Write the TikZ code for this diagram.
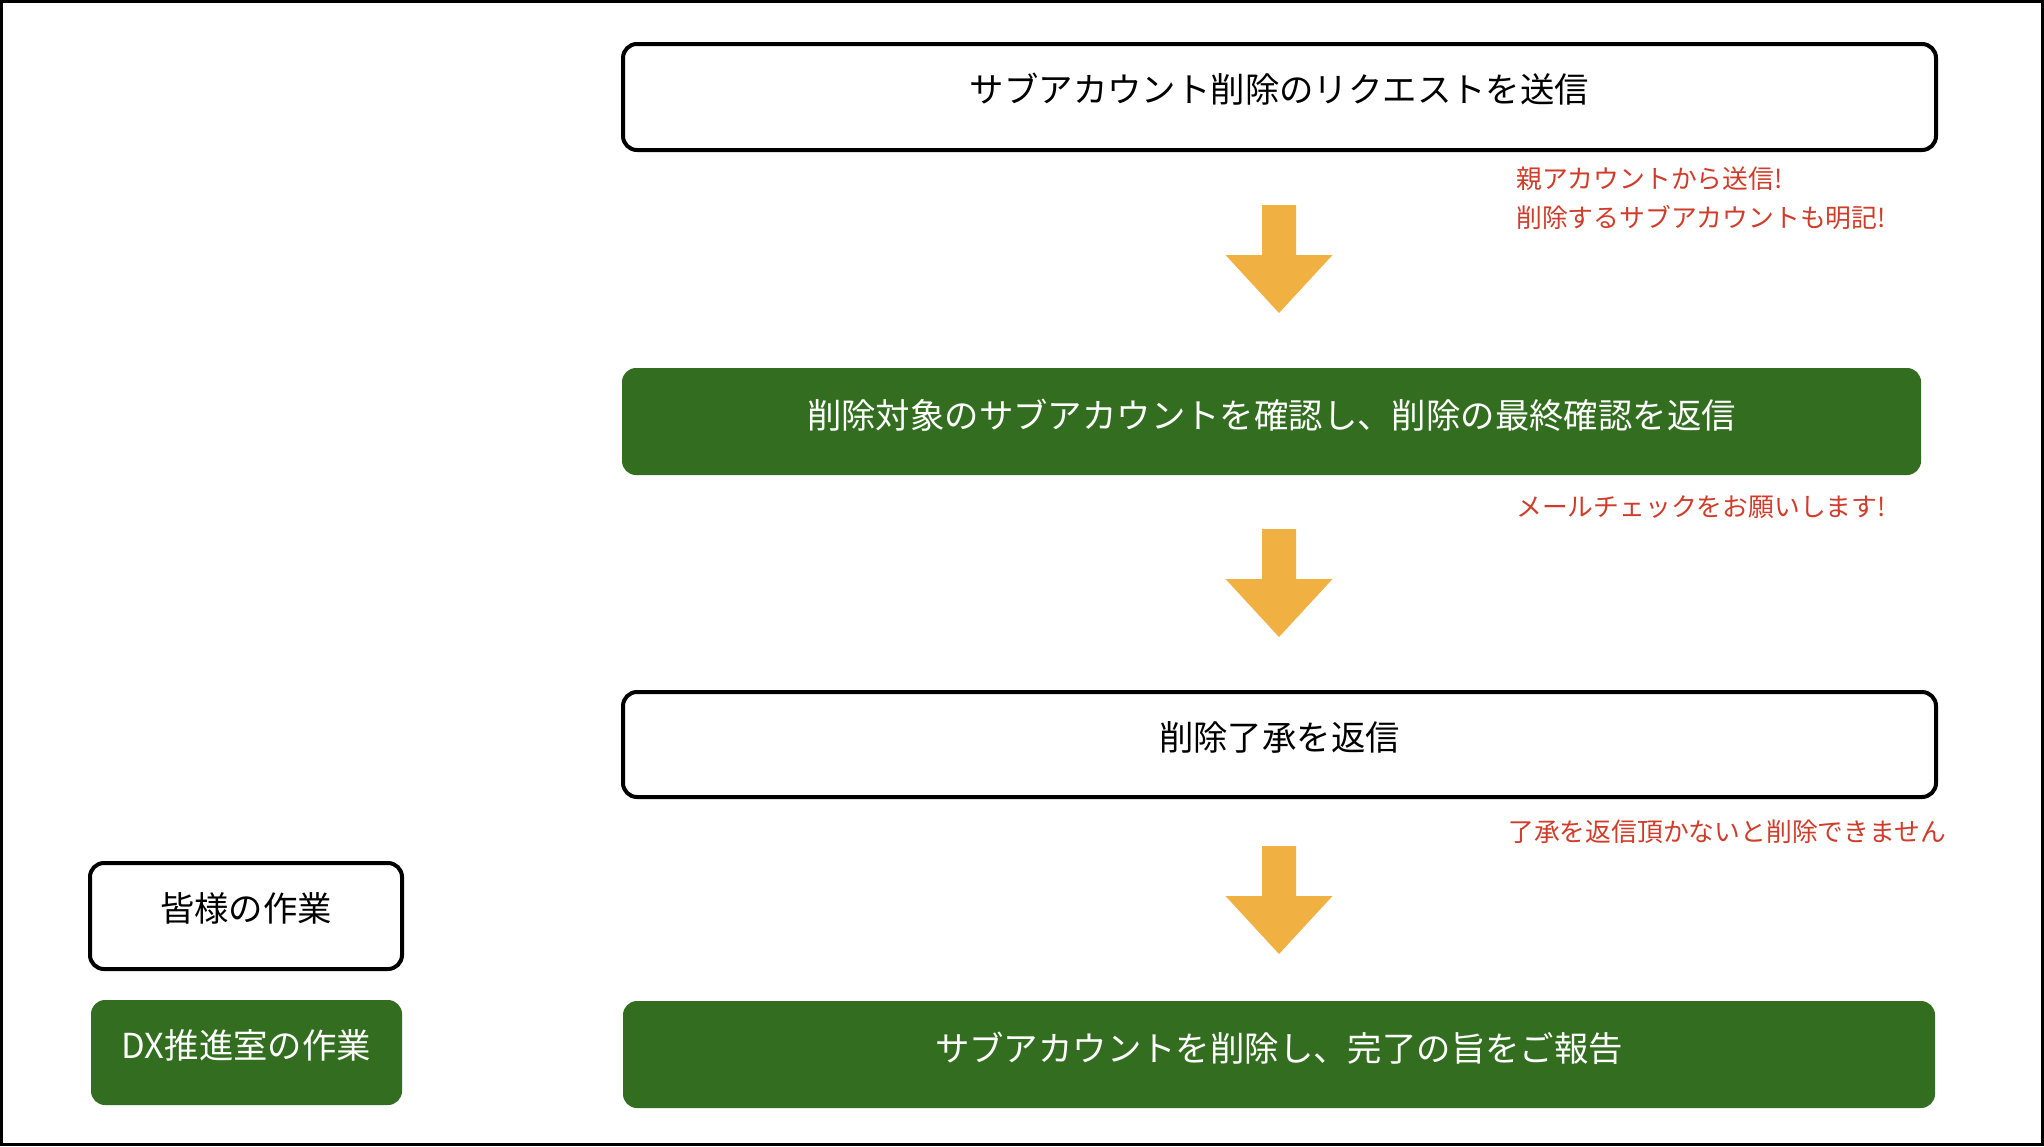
\documentclass[tikz,border=0pt]{standalone}
\usepackage{fontspec}
\setmainfont{Noto Sans CJK JP}
\definecolor{dxgreen}{RGB}{51,110,32}
\definecolor{notered}{RGB}{207,60,42}
\definecolor{arrowor}{RGB}{240,176,66}
\begin{document}
\begin{tikzpicture}[x=1pt,y=-1pt,
  userbox/.style={draw=black,line width=4pt,fill=white,rounded corners=14pt,inner sep=0pt},
  dxbox/.style={fill=dxgreen,text=white,rounded corners=14pt,inner sep=0pt},
  bigtext/.style={font=\fontsize{34.4}{40}\selectfont},
  notetext/.style={font=\fontsize{25.8}{39}\selectfont,text=notered,anchor=west,inner sep=0pt,align=left},
  flowarrow/.style={fill=arrowor}]
\useasboundingbox (0,0) rectangle (2044,1146);
\draw[line width=3pt] (1.5,1.5) rectangle (2042.5,1144.5);

\node[userbox,bigtext,minimum width=1313pt,minimum height=106pt] (s1) at (1279.5,97) {\raisebox{18pt}{サブアカウント削除のリクエストを送信}};
\node[dxbox,bigtext,minimum width=1299pt,minimum height=107pt] (s2) at (1271.5,421.5) {\raisebox{16pt}{削除対象のサブアカウントを確認し、削除の最終確認を返信}};
\node[userbox,bigtext,minimum width=1313pt,minimum height=105pt] (s3) at (1279.5,744.5) {\raisebox{17pt}{削除了承を返信}};
\node[dxbox,bigtext,minimum width=1312pt,minimum height=107pt] (s4) at (1279,1054.5) {\raisebox{15pt}{サブアカウントを削除し、完了の旨をご報告}};

\node[userbox,bigtext,minimum width=312pt,minimum height=106pt] (l1) at (246,916) {\raisebox{17pt}{皆様の作業}};
\node[dxbox,bigtext,minimum width=311pt,minimum height=105pt] (l2) at (246.5,1052.5) {\raisebox{16pt}{DX推進室の作業}};

\node[notetext] (n1) at (1516,198.5) {親アカウントから送信!\\削除するサブアカウントも明記!};
\node[notetext] (n2) at (1516,507) {メールチェックをお願いします!};
\node[notetext] (n3) at (1508,832) {了承を返信頂かないと削除できません};

\coordinate (a1) at (1279,205);
\coordinate (a2) at (1279,529);
\coordinate (a3) at (1279,846);
\foreach \a in {a1,a2,a3}{
  \fill[flowarrow] (\a) ++(-17,0) -- ++(34,0) -- ++(0,50) -- ++(36.5,0) -- ++(-53.5,58) -- ++(-53.5,-58) -- ++(36.5,0) -- cycle;
}
\end{tikzpicture}
\end{document}
